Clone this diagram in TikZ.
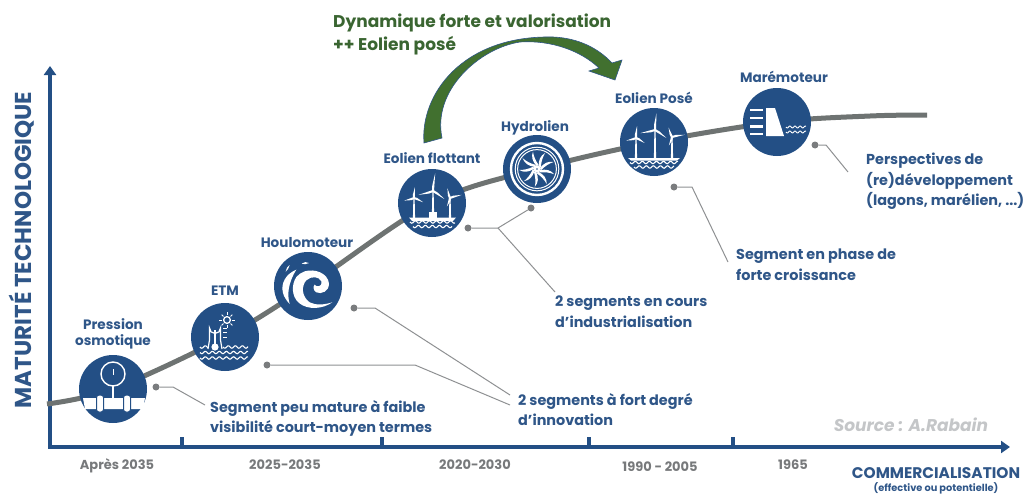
\documentclass[tikz,border=0pt]{standalone}
\usepackage{fontspec}
\setmainfont{Poppins}
\usetikzlibrary{arrows.meta}
\definecolor{navy}{HTML}{234F85}
\definecolor{txtnavy}{HTML}{2F5688}
\definecolor{curvegray}{HTML}{6E7372}
\definecolor{dotgray}{HTML}{7A7C7E}
\definecolor{leadgray}{HTML}{8E9092}
\definecolor{labgray}{HTML}{77797B}
\definecolor{arrowgreen}{HTML}{41702F}
\definecolor{titlegreen}{HTML}{3A6531}
\definecolor{srcgray}{HTML}{C4C6C8}
\tikzset{
  bubble/.style={circle,fill=navy,minimum size=68pt,inner sep=0pt},
  blab/.style={font=\fontsize{13.6}{15.5}\selectfont\bfseries,text=txtnavy,align=center,inner sep=0pt},
  note/.style={font=\fontsize{14.4}{20.5}\selectfont\bfseries,text=txtnavy,align=left,anchor=north west,inner sep=0pt},
  tlab/.style={font=\fontsize{13}{15}\selectfont\bfseries,text=labgray,inner sep=0pt},
  dotn/.style={circle,fill=dotgray,minimum size=7pt,inner sep=0pt},
  lead/.style={draw=leadgray,line width=1pt},
  axisl/.style={draw=navy,line width=3.8pt},
  ico/.style={draw=white,line width=1.1pt,fill=none},
}
% waves: x1, x2, y
\newcommand{\wavy}[3]{\draw[ico] plot[domain=#1:#2,samples=50,smooth] (\x,{#3+1.2*sin((\x-#1)*51)});}
% blade: hub x, hub y, angle, length
\newcommand{\blade}[4]{\fill[white,shift={(#1,#2)},rotate=#3] (0,-1) -- (#4*.3,-1.4) -- (#4,0) -- (0,1) -- cycle;}
% tower: hub x, hub y, base y
\newcommand{\tower}[3]{\fill[white] (#1-0.6,#2) -- (#1+0.6,#2) -- (#1+1.1,#3) -- (#1-1.1,#3) -- cycle; \fill[white] (#1,#2) circle (1.4);}
\begin{document}
\begin{tikzpicture}[x=1pt,y=-1pt]
\useasboundingbox (0,0) rectangle (1023,493);
% anchors
\coordinate (c0) at (47,404);
\coordinate (c1) at (113,389);
\coordinate (c2) at (225,337);
\coordinate (c3) at (308,286);
\coordinate (c4) at (432,203);
\coordinate (c5) at (537,169);
\coordinate (c6) at (654,142);
\coordinate (c7) at (777,122);
\coordinate (c8) at (870,116);
\coordinate (c9) at (927,115);
% axes
\coordinate (orig) at (50,447);
\coordinate (ytop) at (50,66);
\coordinate (xend) at (1010,447);
\draw[axisl,-{Triangle[length=9pt,width=12pt]}] (orig) -- (ytop);
\draw[axisl,-{Triangle[length=9pt,width=12pt]}] (48.1,447) -- (xend);
\foreach \tx in {182,382,589,733}{\draw[draw=navy,line width=3.6pt] (\tx,437) -- (\tx,447);}
% curve
\draw[curvegray,line width=5pt] plot[smooth,tension=.55] coordinates {(c0) (c1) (c2) (c3) (c4) (c5) (c6) (c7) (c8) (c9)};
% green arrow
\fill[arrowgreen,draw=txtnavy,line width=.6pt]
  (424,143) .. controls (420,95) and (462,35) .. (553,37)
  .. controls (578,38) and (598,48) .. (612,63)
  -- (622,60) -- (615,80) -- (589,71) -- (599,68)
  .. controls (580,50) and (550,40) .. (520,42)
  .. controls (480,48) and (432,90) .. (442,138) -- cycle;
% bubbles
\node[bubble] (n1) at (c1) {};
\node[bubble] (n2) at (c2) {};
\node[bubble] (n3) at (c3) {};
\node[bubble] (n4) at (c4) {};
\node[bubble] (n5) at (c5) {};
\node[bubble] (n6) at (c6) {};
\node[bubble] (n7) at (c7) {};
% --- pressure icon
\draw[white,line width=1.4pt] (113,374) circle (12);
\draw[white,line width=1pt] (113,369) -- (113,375);
\draw[white,line width=2.4pt] (113,386) -- (113,398);
\fill[white] (83,398) -- (145,398) -- (143,409) -- (85,409) -- cycle;
\foreach \fx in {100,127}{
  \draw[navy,line width=1pt,fill=white,rounded corners=2.5pt] (\fx-3.5,395) rectangle (\fx+3.5,412);
}
% --- ETM icon
\wavy{200}{208}{347}
\wavy{223}{248}{347}
\wavy{200}{248}{352.5}
\wavy{200}{248}{358}
\draw[white,line width=1.2pt] (208,349) .. controls (209,345) and (209.5,344) .. (209.5,340) -- (209.5,328) arc (180:0:5.5) -- (220.5,340) .. controls (220.5,344) and (221,345) .. (222,349);
\fill[white] (215,347) circle (3.6);
\draw[white,line width=2pt] (215,330) -- (215,346);
\foreach \ty in {328,332.5,337}{\draw[white,line width=.9pt] (223,\ty) -- (226.5,\ty);}
\draw[white,line width=1.3pt] (227,320) circle (3.4);
\foreach \a in {0,45,...,315}{\draw[white,line width=1pt] (227,320) ++(\a:5) -- ++(\a:2.6);}
% --- wave icon (coordinates of a 3x view of the bubble)
\begin{scope}[shift={(273,253)},scale=.3333]
\fill[white] (95,55)
  .. controls (125,46) and (165,60) .. (168,92)
  .. controls (168,115) and (145,125) .. (130,118)
  .. controls (120,112) and (120,100) .. (125,95)
  .. controls (130,105) and (150,100) .. (145,85)
  .. controls (138,70) and (115,68) .. (100,82)
  .. controls (85,98) and (85,130) .. (110,148)
  .. controls (130,158) and (155,155) .. (178,148)
  .. controls (150,168) and (105,172) .. (78,150)
  .. controls (55,130) and (55,95) .. (70,72)
  .. controls (76,65) and (85,58) .. (95,55) -- cycle;
\fill[white] (70,50)
  .. controls (40,62) and (22,90) .. (30,120)
  .. controls (32,130) and (42,145) .. (50,153)
  .. controls (42,125) and (45,90) .. (70,50) -- cycle;
\fill[white] (86,32) .. controls (92,26) and (102,26) .. (108,30) .. controls (102,34) and (92,35) .. (86,32) -- cycle;
\fill[white] (38,56) .. controls (38,48) and (44,40) .. (50,36) .. controls (48,44) and (44,52) .. (38,56) -- cycle;
\end{scope}
% --- floating wind
\tower{433}{191}{213}
\blade{433}{191}{83}{18}\blade{433}{191}{195}{15}\blade{433}{191}{-35}{14}
\tower{414}{198}{219}
\blade{414}{198}{85}{11}\blade{414}{198}{195}{10}\blade{414}{198}{-25}{10}
\tower{450}{198}{219}
\blade{450}{198}{105}{10}\blade{450}{198}{15}{12}\blade{450}{198}{250}{9}
\fill[white] (429,212) rectangle (437,218);
\fill[white] (409,217.5) -- (456,217.5) -- (453,221) -- (412,221) -- cycle;
\wavy{410}{455}{222}
\wavy{413}{452}{226.5}
% --- hydrolien icon
\draw[white,line width=2.4pt] (c5) circle (26);
\draw[white,line width=1pt] (c5) circle (21.8);
\draw[white,line width=1pt] (c5) circle (19.4);
\foreach \a in {0,40,...,320}{
  \fill[white,shift={(c5)},rotate=\a] (3,-1) .. controls (7,-6) and (11,-8) .. (16.5,-7) .. controls (12,-5.5) and (8,-3) .. (4,1.2) -- cycle;
}
\fill[white] (c5) circle (3.6);
\fill[navy] (c5) circle (.8);
% --- fixed wind
\tower{655}{130}{158}
\blade{655}{130}{85}{17}\blade{655}{130}{192}{15}\blade{655}{130}{-35}{14}
\tower{636}{138}{158}
\blade{636}{138}{85}{12}\blade{636}{138}{195}{10}\blade{636}{138}{-30}{10}
\tower{672}{137}{158}
\blade{672}{137}{110}{10}\blade{672}{137}{10}{13}\blade{672}{137}{250}{9}
\fill[white] (628,158) -- (680,158) -- (677,160.5) -- (631,160.5) -- cycle;
\wavy{630}{678}{162.5}
\wavy{634}{674}{167}
% --- tidal icon
\foreach \ty in {110,118,126.5,134}{\fill[white] (750,\ty-1.2) rectangle (763,\ty+1.2);}
\fill[white] (766,108) -- (775,108) -- (784,136) -- (766,136) -- cycle;
\draw[white,line width=.9pt] plot[domain=786:806,samples=30,smooth] (\x,{127+1*sin((\x-786)*70)});
\draw[white,line width=.9pt] plot[domain=786:806,samples=30,smooth] (\x,{132+1*sin((\x-786)*70)});
% bubble labels
\node[blab] (l1) at (113,334) {Pression\\[1pt]osmotique};
\node[blab] (l2) at (225,291) {ETM};
\node[blab] (l3) at (307,243) {Houlomoteur};
\node[blab] (l4) at (432,158) {Eolien flottant};
\node[blab] (l5) at (535,128) {Hydrolien};
\node[blab] (l6) at (654,98) {Eolien Posé};
\node[blab] (l7) at (784,77) {Marémoteur};
% notes
\node[note] (t1) at (210,400) {Segment peu mature à faible\\visibilité court-moyen termes};
\node[note] (t2) at (518,393) {2 segments à fort degré\\d’innovation};
\node[note] (t3) at (555,296) {2 segments en cours\\d’industrialisation};
\node[note] (t4) at (736,249) {Segment en phase de\\forte croissance};
\node[note] (t5) at (866,153) {Perspectives de\\(re)développement\\(lagons, marélien, ...)};
% leaders
\node[dotn] (d1) at (156,387) {};
\node[dotn] (d2) at (267,365) {};
\node[dotn] (d3) at (354,308) {};
\node[dotn] (d4) at (468,228) {};
\node[dotn] (d5) at (531,208) {};
\node[dotn] (d6) at (674,187) {};
\node[dotn] (d7) at (815,145) {};
\coordinate (b1) at (173,387); \coordinate (e1) at (205,405);
\coordinate (b2) at (415,365); \coordinate (e2) at (510,405);
\coordinate (b3) at (375,308); \coordinate (e3) at (510,395);
\coordinate (b4) at (498,228); \coordinate (e4) at (555,292);
\coordinate (b6) at (692,187); \coordinate (e6) at (728,262);
\coordinate (b7) at (826,145); \coordinate (e7) at (848,172);
\draw[lead] (d1) -- (b1) -- (e1);
\draw[lead] (d2) -- (b2) -- (e2);
\draw[lead] (d3) -- (b3) -- (e3);
\draw[lead] (d4) -- (b4) -- (e4);
\draw[lead] (d5) -- (b4);
\draw[lead] (d6) -- (b6) -- (e6);
\draw[lead] (d7) -- (b7) -- (e7);
% title
\node[anchor=north west,inner sep=0pt,align=left,text=titlegreen,font=\fontsize{17}{23}\selectfont\bfseries] (title) at (333,14) {Dynamique forte et valorisation\\++ Eolien posé};
% y axis
\node[rotate=90,text=txtnavy,inner sep=0pt,font=\fontsize{23}{25}\selectfont\bfseries] (ylab) at (22,250) {MATURITÉ TECHNOLOGIQUE};
% axis labels
\node[tlab] (x1) at (117,466) {Après 2035};
\node[tlab] (x2) at (285,465) {2025-2035};
\node[tlab] (x3) at (475,465) {2020-2030};
\node[tlab] (x4) at (660,467) {1990 - 2005};
\node[tlab] (x5) at (793,465) {1965};
\node[inner sep=0pt,text=txtnavy,font=\fontsize{15.4}{17}\selectfont\bfseries] (x6) at (936,473) {COMMERCIALISATION};
\node[inner sep=0pt,text=txtnavy,font=\fontsize{9.8}{11}\selectfont\bfseries] (x7) at (936,488) {(effective ou potentielle)};
\node[inner sep=0pt,text=srcgray,font=\fontsize{17}{19}\selectfont\bfseries\itshape] (src) at (911,425) {Source : A.Rabain};
\end{tikzpicture}
\end{document}
